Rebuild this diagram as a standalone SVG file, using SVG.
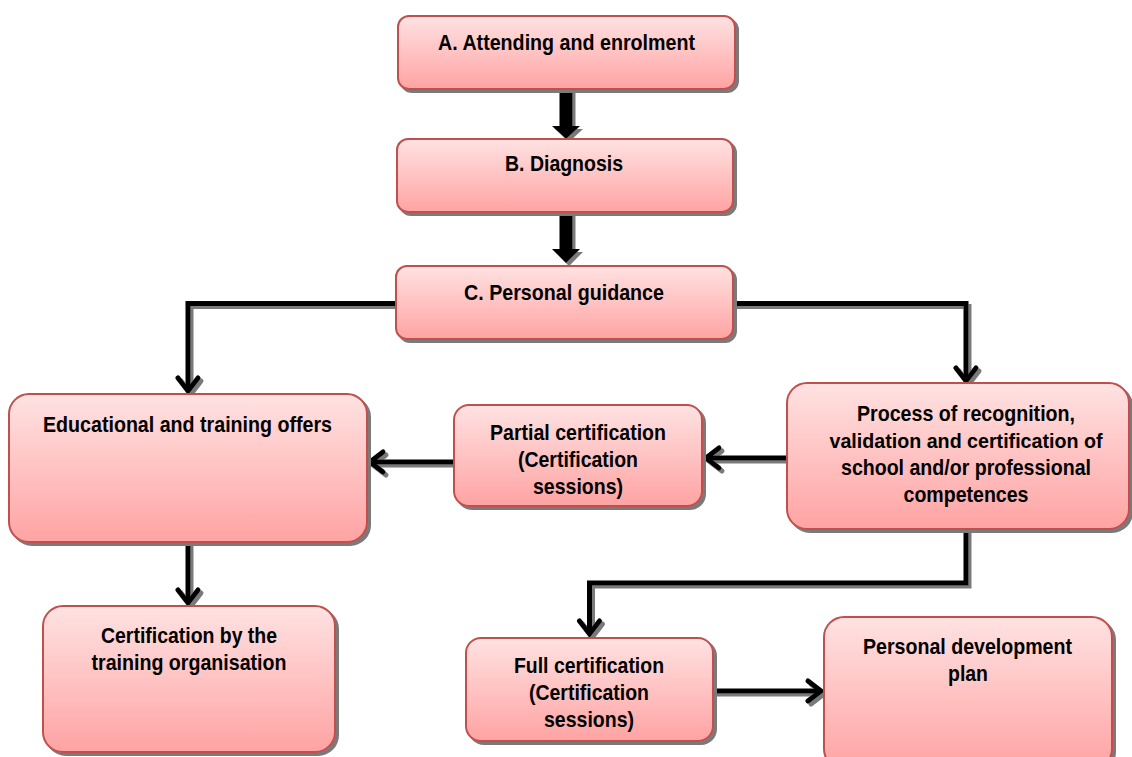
<svg xmlns="http://www.w3.org/2000/svg" width="1132" height="757" viewBox="0 0 1132 757">
<defs>
<linearGradient id="g" x1="0" y1="0" x2="0" y2="1">
<stop offset="0" stop-color="#FFE2E2"/>
<stop offset="1" stop-color="#FFA3A3"/>
</linearGradient>
<filter id="sh" x="-5%" y="-5%" width="115%" height="120%">
<feFlood flood-color="#7a7a7a" result="f"/>
<feComposite in="f" in2="SourceAlpha" operator="in" result="s"/>
<feOffset in="s" dx="3" dy="3" result="o"/>
<feMerge><feMergeNode in="o"/><feMergeNode in="SourceGraphic"/></feMerge>
</filter>
<marker id="ah" markerUnits="userSpaceOnUse" orient="auto" markerWidth="40" markerHeight="40" refX="0" refY="0" viewBox="-20 -20 40 40" overflow="visible">
<path d="M-13,-10 L0,0 L-13,10" fill="none" stroke="#000" stroke-width="5" stroke-linecap="round" stroke-linejoin="miter"/>
</marker>
</defs>
<style>
.box{fill:url(#g);stroke:#C0504D;stroke-width:2;filter:url(#sh)}
.t{font-family:"Liberation Sans",Arial,sans-serif;font-size:22px;font-weight:bold;fill:#000;text-anchor:middle}
.c{fill:none;stroke:#000;stroke-width:5;marker-end:url(#ah)}
</style>
<rect width="1132" height="757" fill="#fff"/>
<g id="connectors" filter="url(#sh)">
<polygon points="559.5,90 572.5,90 572.5,126 580,126 566,139 552,126 559.5,126" fill="#000"/>
<polygon points="559.5,213 572.5,213 572.5,249 580,249 566,263 552,249 559.5,249" fill="#000"/>
<path class="c" d="M396,303.5 H188 V391"/>
<path class="c" d="M733,303.5 H966 V381"/>
<path class="c" d="M787,458 H706"/>
<path class="c" d="M454,462 H370"/>
<path class="c" d="M188,542 V603"/>
<path class="c" d="M966,529 V583 H589.5 V634"/>
<path class="c" d="M713,691 H821"/>
</g>
<g id="nodeA"><rect class="box" x="398" y="16" width="337" height="73" rx="11"/>
<text class="t" x="566.5" y="50" textLength="257" lengthAdjust="spacingAndGlyphs">A. Attending and enrolment</text></g>
<g id="nodeB"><rect class="box" x="397" y="139" width="336" height="73" rx="11"/>
<text class="t" x="564" y="171" textLength="118" lengthAdjust="spacingAndGlyphs">B. Diagnosis</text></g>
<g id="nodeC"><rect class="box" x="396" y="266" width="337" height="73" rx="11"/>
<text class="t" x="564" y="300" textLength="200" lengthAdjust="spacingAndGlyphs">C. Personal guidance</text></g>
<g id="nodeEdu"><rect class="box" x="9" y="394" width="358" height="148" rx="20"/>
<text class="t" x="187.5" y="432" textLength="289" lengthAdjust="spacingAndGlyphs">Educational and training offers</text></g>
<g id="nodePartial"><rect class="box" x="454" y="405" width="248" height="101" rx="15"/>
<text class="t" x="578" y="440" textLength="176" lengthAdjust="spacingAndGlyphs">Partial certification</text>
<text class="t" x="578" y="467" textLength="120" lengthAdjust="spacingAndGlyphs">(Certification</text>
<text class="t" x="578" y="494" textLength="90" lengthAdjust="spacingAndGlyphs">sessions)</text></g>
<g id="nodeProcess"><rect class="box" x="787" y="383" width="342" height="146" rx="20"/>
<text class="t" x="966" y="421" textLength="218" lengthAdjust="spacingAndGlyphs">Process of recognition,</text>
<text class="t" x="966" y="448" textLength="273" lengthAdjust="spacingAndGlyphs" style="font-size:20px">validation and certification of</text>
<text class="t" x="966" y="475" textLength="250" lengthAdjust="spacingAndGlyphs">school and/or professional</text>
<text class="t" x="966" y="502" textLength="125" lengthAdjust="spacingAndGlyphs">competences</text></g>
<g id="nodeCert"><rect class="box" x="43" y="606" width="292" height="146" rx="20"/>
<text class="t" x="189" y="643" textLength="176" lengthAdjust="spacingAndGlyphs">Certification by the</text>
<text class="t" x="189" y="670" textLength="195" lengthAdjust="spacingAndGlyphs">training organisation</text></g>
<g id="nodeFull"><rect class="box" x="466" y="638" width="247" height="103" rx="15"/>
<text class="t" x="589" y="673" textLength="150" lengthAdjust="spacingAndGlyphs">Full certification</text>
<text class="t" x="589" y="700" textLength="120" lengthAdjust="spacingAndGlyphs">(Certification</text>
<text class="t" x="589" y="727" textLength="90" lengthAdjust="spacingAndGlyphs">sessions)</text></g>
<g id="nodePersonal"><rect class="box" x="824" y="617" width="288" height="152" rx="20"/>
<text class="t" x="967.5" y="654" textLength="209" lengthAdjust="spacingAndGlyphs">Personal development</text>
<text class="t" x="968" y="681" textLength="40" lengthAdjust="spacingAndGlyphs">plan</text></g>
</svg>
